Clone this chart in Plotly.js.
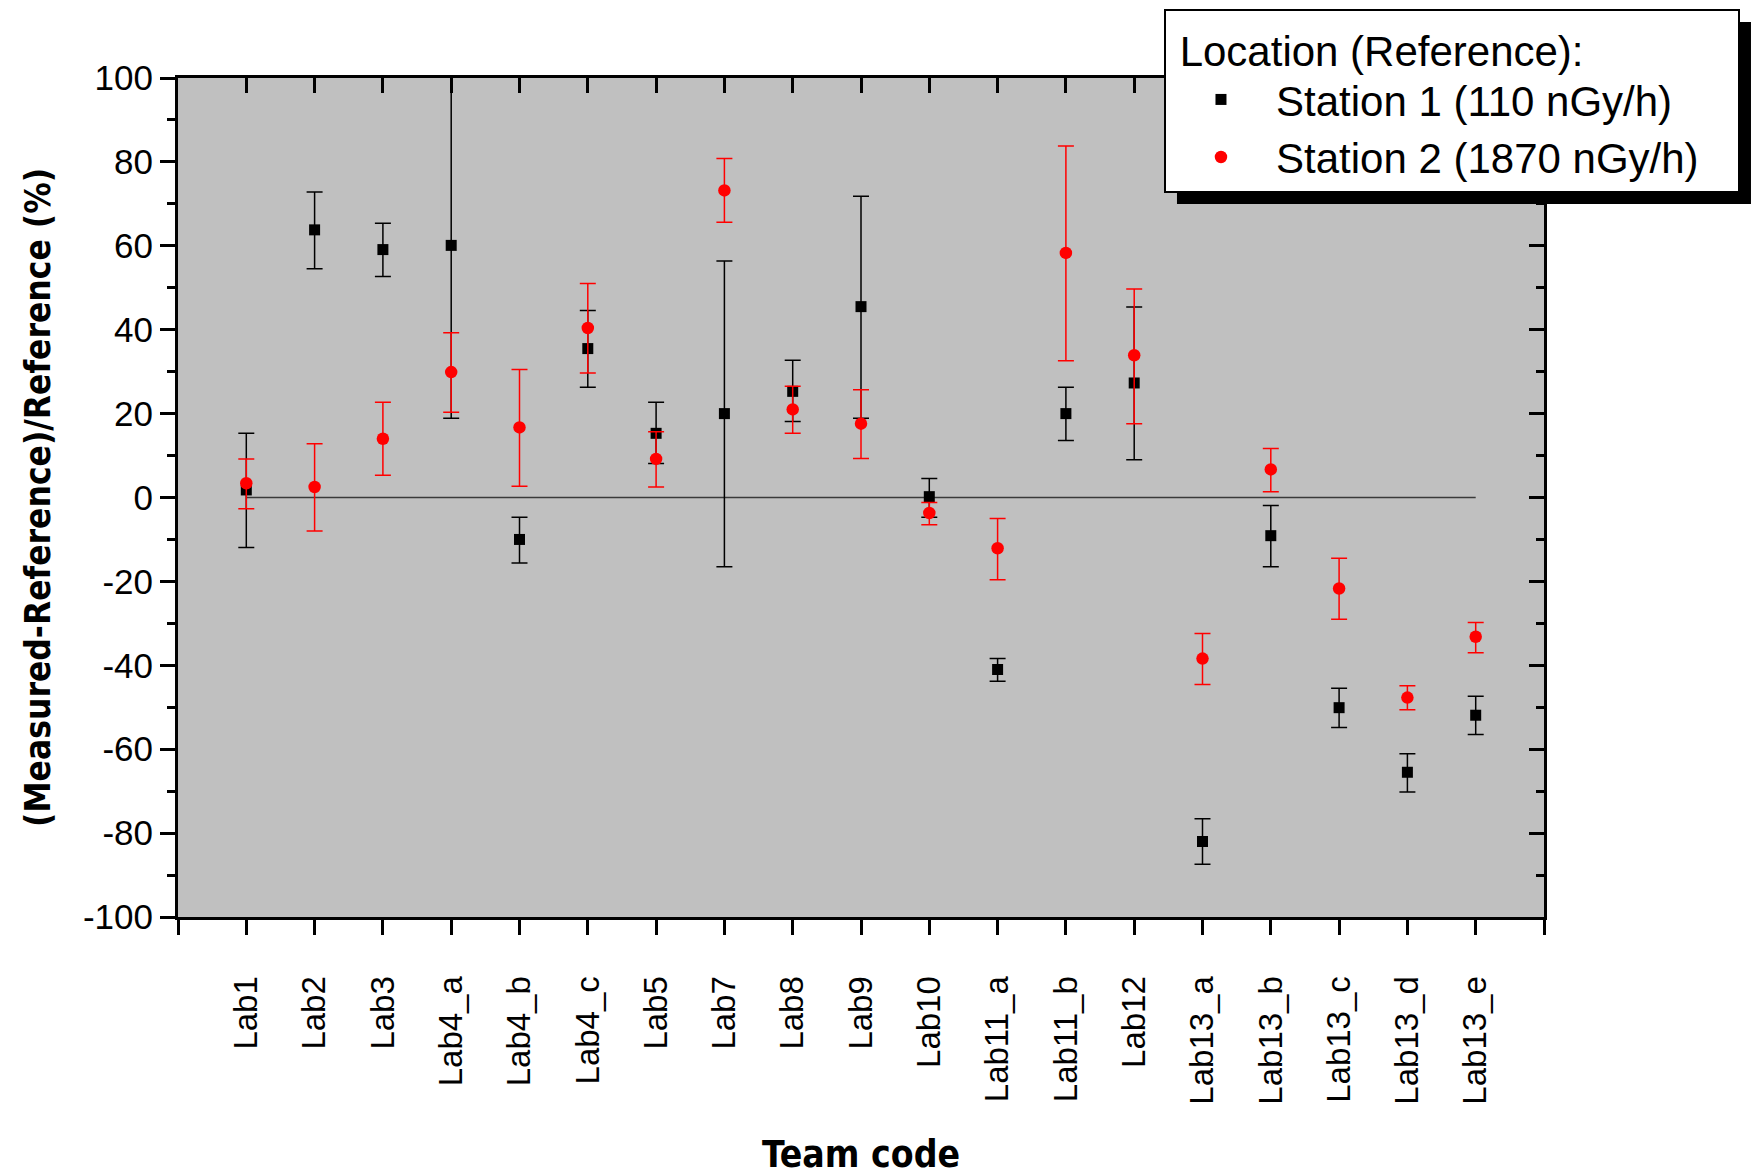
<!DOCTYPE html>
<html>
<head>
<meta charset="utf-8">
<script src="https://cdn.plot.ly/plotly-3.0.1.min.js"></script>
<style>html,body{margin:0;padding:0;background:#fff;}#chart{width:1753px;height:1176px;}</style>
</head>
<body>
<div id="chart"></div>
<script>
const categories = ["Lab1","Lab2","Lab3","Lab4_a","Lab4_b","Lab4_c","Lab5","Lab7","Lab8","Lab9","Lab10","Lab11_a","Lab11_b","Lab12","Lab13_a","Lab13_b","Lab13_c","Lab13_d","Lab13_e"];

const station1 = [1.8, 63.8, 59.1, 60.1, -10.0, 35.5, 15.3, 20.0, 25.3, 45.5, 0.2, -41.0, 20.0, 27.3, -82.0, -9.1, -50.1, -65.5, -51.9];
const station1ErrPlus = [13.5, 9.0, 6.3, 41.0, 5.3, 9.1, 7.4, 36.4, 7.4, 26.3, 4.3, 2.6, 6.3, 18.1, 5.4, 7.2, 4.6, 4.4, 4.5];
const station1ErrMinus = [13.7, 9.3, 6.4, 41.2, 5.6, 9.2, 7.2, 36.5, 7.2, 26.6, 4.9, 2.8, 6.4, 18.3, 5.4, 7.4, 4.7, 4.7, 4.6];

const station2 = [3.4, 2.5, 14.0, 29.9, 16.7, 40.4, 9.2, 73.2, 21.0, 17.6, -3.7, -12.1, 58.3, 33.9, -38.4, 6.7, -21.7, -47.7, -33.2];
const station2ErrPlus = [5.8, 10.3, 8.7, 9.4, 13.8, 10.6, 6.5, 7.6, 5.5, 8.1, 2.5, 7.1, 25.5, 15.8, 6.0, 5.0, 7.2, 2.8, 3.4];
const station2ErrMinus = [6.1, 10.5, 8.7, 9.6, 14.0, 10.7, 6.7, 7.6, 5.7, 8.3, 2.8, 7.5, 25.7, 16.3, 6.2, 5.3, 7.3, 2.9, 3.8];

const yTickVals = [-100, -80, -60, -40, -20, 0, 20, 40, 60, 80, 100];
const yTickText = ["-100", "-80", "-60", "-40", "-20", "0", "20", "40", "60", "80", "100"];

const seriesNames = ["Station 1 (110 nGy/h)", "Station 2 (1870 nGy/h)"];
const legendTitle = "\u00a0Location (Reference):" + "\u00a0".repeat(13);
const xTitle = "Team code";
const yTitle = "(Measured-Reference)/Reference (%)";
const referenceLevel = 0;

const xpos = categories.map((c, i) => i + 1);
const tickPositions = [0].concat(xpos, [categories.length + 1]);
const tickLabels = [""].concat(categories, [""]);

const baseFont = "Liberation Sans, Arial, Helvetica, sans-serif";
const narrowFont = "Liberation Sans Narrow, Arial Narrow, DejaVu Sans Condensed, Liberation Sans, sans-serif";

const traces = [
  {
    x: [xpos[0], xpos[xpos.length - 1]],
    y: [referenceLevel, referenceLevel],
    mode: "lines",
    line: {color: "#3a3a3a", width: 1.5},
    showlegend: false,
    hoverinfo: "skip"
  },
  {
    x: xpos, y: station1, name: seriesNames[0],
    mode: "markers", type: "scatter",
    marker: {symbol: "square", size: 11, color: "#000000"},
    error_y: {type: "data", symmetric: false, array: station1ErrPlus, arrayminus: station1ErrMinus, color: "#000000", thickness: 1.5, width: 8}
  },
  {
    x: xpos, y: station2, name: seriesNames[1],
    mode: "markers", type: "scatter",
    marker: {symbol: "circle", size: 12.5, color: "#ff0000"},
    error_y: {type: "data", symmetric: false, array: station2ErrPlus, arrayminus: station2ErrMinus, color: "#ff0000", thickness: 1.5, width: 8}
  },
  {
    x: [], y: [], xaxis: "x2", yaxis: "y2", showlegend: false, hoverinfo: "skip", mode: "markers"
  }
];

const layout = {
  width: 1753, height: 1176,
  margin: {l: 178, r: 209, t: 78, b: 259, autoexpand: false},
  paper_bgcolor: "#ffffff",
  plot_bgcolor: "#c0c0c0",
  font: {family: baseFont, color: "#000000"},
  showlegend: true,
  xaxis: {
    range: [0, categories.length + 1],
    tickmode: "array", tickvals: tickPositions, ticktext: tickLabels,
    ticks: "outside", ticklen: 15, tickwidth: 3, tickcolor: "#000",
    showline: true, linewidth: 3, linecolor: "#000",
    showgrid: false, zeroline: false,
    tickangle: -90, tickfont: {size: 33, family: baseFont},
    ticklabelstandoff: 28,
    title: {text: xTitle, font: {size: 37, family: narrowFont, weight: "bold"}, standoff: 38}
  },
  yaxis: {
    range: [-100, 100],
    tickmode: "array", tickvals: yTickVals, ticktext: yTickText,
    ticks: "outside", ticklen: 15, tickwidth: 3, tickcolor: "#000",
    minor: {tickmode: "linear", tick0: 0, dtick: 10, ticks: "outside", ticklen: 8, tickwidth: 3, tickcolor: "#000"},
    showline: true, linewidth: 3, linecolor: "#000",
    showgrid: false, zeroline: false,
    tickfont: {size: 35, family: baseFont},
    title: {text: yTitle, font: {size: 35, family: narrowFont, weight: "bold"}, standoff: 22}
  },
  xaxis2: {
    overlaying: "x", side: "top", anchor: "y",
    range: [0, categories.length + 1],
    tickmode: "array", tickvals: tickPositions,
    ticks: "inside", ticklen: 15, tickwidth: 3, tickcolor: "#000",
    showline: true, linewidth: 3, linecolor: "#000",
    showticklabels: false, showgrid: false, zeroline: false
  },
  yaxis2: {
    overlaying: "y", side: "right", anchor: "x",
    range: [-100, 100], tickmode: "array", tickvals: yTickVals,
    ticks: "inside", ticklen: 15, tickwidth: 3, tickcolor: "#000",
    minor: {tickmode: "linear", tick0: 0, dtick: 10, ticks: "inside", ticklen: 8, tickwidth: 3, tickcolor: "#000"},
    showline: true, linewidth: 3, linecolor: "#000",
    showticklabels: false, showgrid: false, zeroline: false
  },
  legend: {
    x: 0.7218, y: 1.0822, xanchor: "left", yanchor: "top",
    bgcolor: "#ffffff", bordercolor: "#000000", borderwidth: 2,
    font: {size: 42, family: baseFont},
    title: {text: legendTitle, font: {size: 42, family: baseFont}},
    itemwidth: 100, tracegroupgap: 0
  },
  shapes: []
};

const gd = document.getElementById("chart");
Plotly.newPlot(gd, traces, layout, {displayModeBar: false, staticPlot: true}).then(function () {
  // drop shadow behind the legend box, measured from the rendered legend
  const bg = gd.querySelector(".legend .bg");
  if (!bg) return;
  const r = bg.getBoundingClientRect();
  const c = gd.getBoundingClientRect();
  const sz = gd._fullLayout._size;
  const off = 12;
  const px = (v) => (v - c.left - sz.l) / sz.w;
  const py = (v) => 1 - (v - c.top - sz.t) / sz.h;
  return Plotly.relayout(gd, {shapes: [{
    type: "rect", xref: "paper", yref: "paper",
    x0: px(r.left + off), x1: px(r.right + off),
    y0: py(r.bottom + off), y1: py(r.top + off),
    fillcolor: "#000000", line: {width: 0}, layer: "above"
  }]});
});
</script>
</body>
</html>
